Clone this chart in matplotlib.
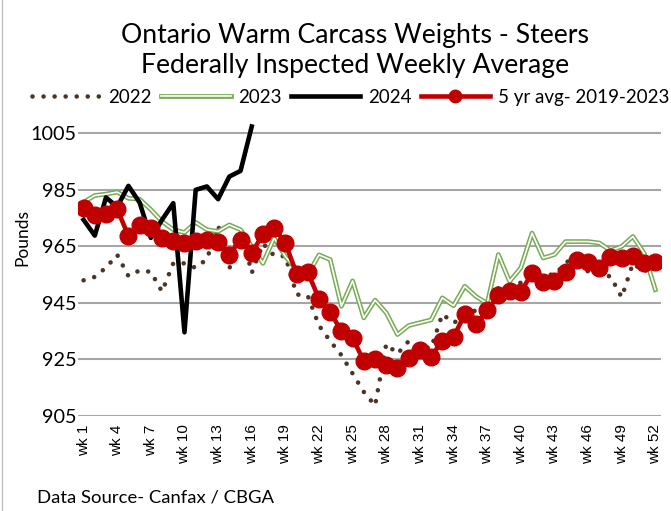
import matplotlib
matplotlib.use("Agg")
import matplotlib.pyplot as plt
from matplotlib.lines import Line2D
from matplotlib.patches import Rectangle

weeks = list(range(1, 53))
week_labels = ["wk %d" % w for w in weeks]

# 5 yr avg 2019-2023
avg_5yr = [978.4, 976.2, 976.5, 978.2, 968.7, 972.4, 971.5, 967.9, 967.0, 966.2,
           966.8, 967.4, 966.5, 962.0, 967.4, 962.6, 969.4, 971.5, 966.2, 955.3,
           955.9, 946.4, 941.8, 935.0, 932.6, 924.4, 925.0, 923.0, 922.0, 925.6,
           928.3, 925.9, 931.7, 932.9, 941.0, 937.4, 942.4, 947.7, 949.1, 948.8,
           955.6, 952.3, 952.6, 955.8, 960.3, 959.5, 957.4, 961.2, 960.9, 961.7,
           959.1, 959.5]

w2022 = [953.0, 954.2, 957.5, 962.0, 954.5, 956.5, 956.0, 949.0, 959.0, 959.0,
         957.4, 960.5, 972.6, 957.0, 971.5, 955.6, 966.0, 961.7, 961.5, 948.0,
         947.5, 937.0, 931.5, 926.5, 920.0, 913.5, 908.7, 930.5, 927.0, 931.5,
         929.5, 929.0, 941.0, 938.0, 940.0, 942.5, 945.0, 950.3, 947.0, 952.3,
         955.0, 955.0, 955.0, 959.0, 962.5, 956.0, 955.0, 954.4, 947.0, 959.0,
         956.0, 959.0]

w2023 = [980.6, 983.0, 983.5, 984.2, 982.0, 981.7, 978.0, 973.8, 970.9, 969.9,
         973.5, 970.9, 970.3, 972.6, 970.9, 965.0, 959.0, 968.0, 961.4, 956.8,
         955.0, 962.0, 960.3, 943.8, 952.8, 939.7, 946.0, 941.5, 933.8, 937.0,
         938.0, 939.0, 946.8, 944.0, 950.9, 947.3, 944.8, 962.1, 952.6, 957.4,
         969.7, 960.9, 962.1, 966.7, 966.7, 966.7, 966.2, 963.5, 965.0, 968.5,
         962.6, 949.7]

w2024 = [974.4, 968.8, 982.3, 979.0, 986.4, 980.5, 968.0, 974.4, 980.3, 934.6,
         985.0, 986.2, 981.7, 989.7, 991.7, 1007.4]

yticks = [905, 925, 945, 965, 985, 1005]

green = "#77ab55"
red = "#c00000"
brown = "#4a3527"
dots = (0, (0.01, 2.4))

fig = plt.figure(figsize=(6.71, 5.11), dpi=100)
ax = fig.add_axes([0.1162, 0.1859, 0.8688, 0.5975])

ax.plot(weeks, w2022, color=brown, lw=3.3, linestyle=dots,
        dash_capstyle="round", zorder=2)
ax.plot(weeks, w2023, color=green, lw=3.4, zorder=3)
ax.plot(weeks, w2023, color="white", lw=1.2, zorder=3)
ax.plot(weeks[:len(w2024)], w2024, color="black", lw=3.3, zorder=4)
ax.plot(weeks, avg_5yr, color=red, lw=3.3, marker="o", markersize=12, zorder=5)

ax.set_xlim(0.5, 52.5)
ax.set_ylim(905, 1013)
ax.set_yticks(yticks)
ax.set_yticklabels([str(v) for v in yticks], fontfamily="Lato", fontsize=14.3)
ax.set_xticks(weeks[::3])
ax.set_xticklabels(week_labels[::3], rotation=90, fontfamily="Liberation Sans", fontsize=11)
ax.tick_params(axis="y", length=0, pad=1)
ax.tick_params(axis="x", length=0, pad=6)
ax.grid(axis="y", color="#a6a6a6", lw=1.5)
ax.set_axisbelow(True)
for s in ax.spines.values():
    s.set_visible(False)

fig.text(0.033, 0.536, "Pounds", rotation=90, ha="center", va="center",
         fontfamily="Lato", fontsize=12.5)

fig.text(0.529, 0.901, "Ontario Warm Carcass Weights - Steers\nFederally Inspected Weekly Average",
         ha="center", va="center", fontfamily="Lato", fontsize=19.2, linespacing=1.25)

h2022 = Line2D([], [], color=brown, lw=3.3, linestyle=dots, dash_capstyle="round")
h2023a = Line2D([], [], color=green, lw=3.4)
h2023b = Line2D([], [], color="white", lw=1.2)
h2024 = Line2D([], [], color="black", lw=3.3)
havg = Line2D([], [], color=red, lw=3.3, marker="o", markersize=9)
fig.legend([h2022, (h2023a, h2023b), h2024, havg],
           ["2022", "2023", "2024", "5 yr avg- 2019-2023"],
           loc="center", bbox_to_anchor=(0.522, 0.81), ncol=4, frameon=False,
           prop={"family": "Lato", "size": 13.5}, handlelength=3.7,
           handletextpad=0.4, columnspacing=0.5, borderpad=0.2)

fig.text(0.055, 0.027, "Data Source- Canfax / CBGA", ha="left", va="center",
         fontfamily="Lato", fontsize=13.3)

fig.patches.append(Rectangle((0.003, -0.01), 1.2, 1.2, transform=fig.transFigure,
                             fill=False, edgecolor="#bfbfbf", lw=1.0))

fig.savefig("out.png", dpi=100)
